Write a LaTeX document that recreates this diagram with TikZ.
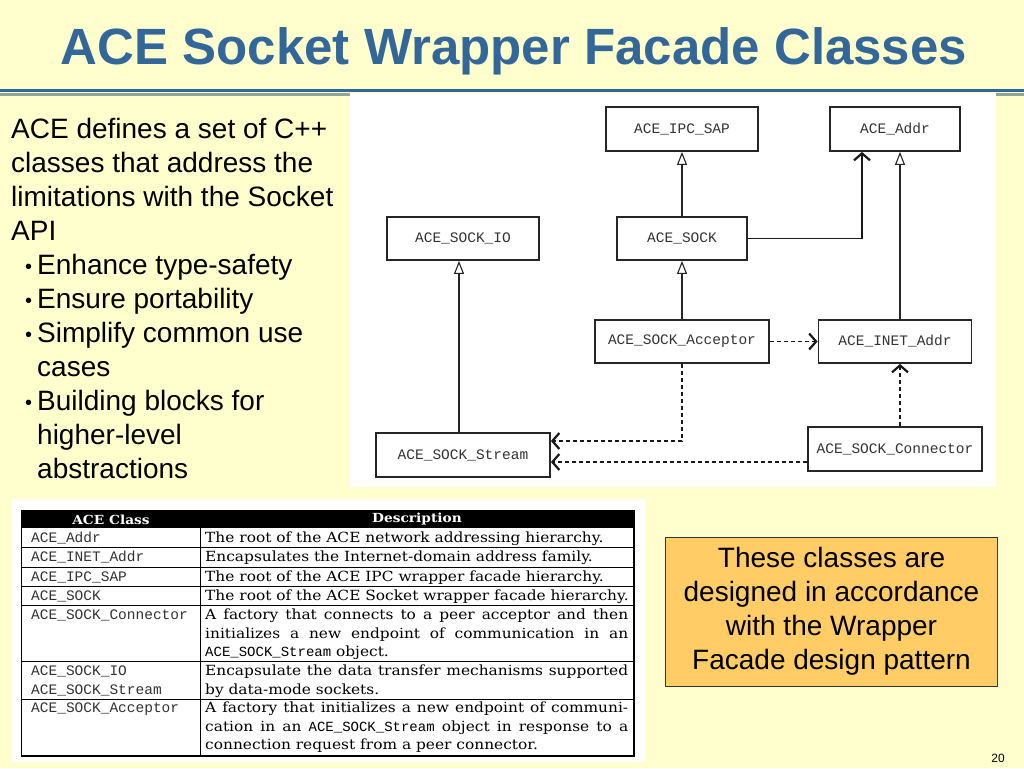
\documentclass[tikz,border=0pt]{standalone}
\usepackage{fontspec}
\setmainfont{Liberation Sans}
\newfontfamily\monof{Liberation Mono}
\newfontfamily\descf[FakeStretch=1.1]{DejaVu Serif}
\usetikzlibrary{arrows.meta}
\definecolor{bg}{RGB}{255,255,206}
\definecolor{titleblue}{RGB}{51,102,153}
\definecolor{rulegray}{RGB}{140,165,160}
\definecolor{boxorange}{RGB}{255,204,102}
\tikzset{
  txt/.style={anchor=base west, inner sep=0, font=\fontsize{28}{34}\selectfont},
  bul/.style={anchor=base west, inner sep=0, font=\fontsize{20}{24}\selectfont},
  cls/.style={draw=black!85, line width=1.8, fill=white, inner sep=0,
              font=\monof\fontsize{14.5}{16}\selectfont, text=black!80},
  inh/.style={line width=1.3, draw=black!85, -{Triangle[open, length=13pt, width=10pt, line width=1.1pt, fill=white]}},
  assoc/.style={line width=1.6, draw=black!90, -{Straight Barb[length=7pt, width=16pt, line width=2.2pt]}},
  dep/.style={assoc, dash pattern=on 4pt off 3pt},
  cname/.style={anchor=base west, inner sep=0, font=\monof\fontsize{14.5}{18.5}\selectfont, text=black!80},
  cdesc/.style={anchor=base west, inner sep=0, font=\descf\fontsize{14}{18.5}\selectfont, text=black},
  hdr/.style={inner sep=0, font=\descf\bfseries\fontsize{12.5}{14}\selectfont, text=white},
  tline/.style={line width=1, draw=black}
}
\newcommand{\mst}{{\monof\fontsize{14}{18.5}\selectfont ACE\_SOCK\_Stream}}
\begin{document}
\begin{tikzpicture}[x=1pt,y=-1pt]
\fill[bg] (0,0) rectangle (1024,768);
\useasboundingbox (0,0) rectangle (1024,768);

% title
\node[anchor=base, inner sep=0, font=\fontsize{51}{60}\selectfont\bfseries, text=titleblue] (title) at (514,64) {ACE Socket Wrapper Facade Classes};
\draw[titleblue, line width=3] (0,90.5) -- (1024,90.5);
\draw[rulegray, line width=2.5] (0,94.5) -- (1024,94.5);

% white panels
\fill[white] (350,93) rectangle (996,487);
\fill[white] (12,499) rectangle (645,762);

% left text
\node[txt] (l1) at (11,138) {ACE defines a set of C++};
\node[txt] (l2) at (11,172) {classes that address the};
\node[txt] (l3) at (11,206) {limitations with the Socket};
\node[txt] (l4) at (11,240) {API};
\node[bul] (b1) at (25,273) {\textbullet};
\node[txt] (l5) at (37,274) {Enhance type-safety};
\node[bul] (b2) at (25,307) {\textbullet};
\node[txt] (l6) at (37,308) {Ensure portability};
\node[bul] (b3) at (25,341) {\textbullet};
\node[txt] (l7) at (37,342) {Simplify common use};
\node[txt] (l8) at (37,376) {cases};
\node[bul] (b4) at (25,409) {\textbullet};
\node[txt] (l9) at (37,410) {Building blocks for};
\node[txt] (l10) at (37,444) {higher-level};
\node[txt] (l11) at (37,478) {abstractions};

% class diagram
\node[cls, minimum width=152, minimum height=44] (ipc) at (682,129) {ACE\_IPC\_SAP};
\node[cls, minimum width=130, minimum height=44] (addr) at (895,129) {ACE\_Addr};
\node[cls, minimum width=152, minimum height=43] (sockio) at (463,238.5) {ACE\_SOCK\_IO};
\node[cls, minimum width=130, minimum height=43] (sock) at (682,238.5) {ACE\_SOCK};
\node[cls, minimum width=174, minimum height=43] (acc) at (682,341.5) {ACE\_SOCK\_Acceptor};
\node[cls, minimum width=153, minimum height=43] (inet) at (895,341.5) {ACE\_INET\_Addr};
\node[cls, minimum width=174, minimum height=44] (stream) at (463,455) {ACE\_SOCK\_Stream};
\node[cls, minimum width=174, minimum height=44] (conn) at (895,449) {ACE\_SOCK\_Connector};

\draw[inh] (sock.north) -- (ipc.south);
\draw[inh] (acc.north) -- (sock.south);
\draw[inh] ([xshift=-4]stream.north) -- ([xshift=-4]sockio.south);
\draw[inh] ([xshift=5]inet.north) -- ([xshift=5]addr.south);
\draw[assoc] (sock.east) -| ([xshift=-33]addr.south);
\draw[dep] (acc.east) -- (inet.west);
\draw[dep] (acc.south) |- ([yshift=14]stream.east);
\draw[dep] ([yshift=-13]conn.west) -- ([yshift=-13]conn.west -| stream.east);
\draw[dep] ([xshift=5]conn.north) -- ([xshift=5]inet.south);

% table
\fill[black] (21.7,511) rectangle (634,528);
\node[hdr] (h1) at (111,519.5) {ACE Class};
\node[hdr] (h2) at (417,519.5) {Description};
\foreach \yy in {547,567,586,605,661,699} \draw[tline] (21.7,\yy) -- (634,\yy);
\draw[tline] (200.7,528) -- (200.7,756);
\draw[line width=1.2] (21.7,511) rectangle (634,756);

\node[cname] (c1) at (31,542.5) {ACE\_Addr};
\node[cname] (c2) at (31,561.5) {ACE\_INET\_Addr};
\node[cname] (c3) at (31,581) {ACE\_IPC\_SAP};
\node[cname] (c4) at (31,600.5) {ACE\_SOCK};
\node[cname] (c5) at (31,619.5) {ACE\_SOCK\_Connector};
\node[cname] (c6) at (31,675.5) {\parbox[t]{165pt}{ACE\_SOCK\_IO\\ACE\_SOCK\_Stream}};
\node[cname] (c7) at (31,712.5) {ACE\_SOCK\_Acceptor};

\node[cdesc] (d1) at (205,542.5) {The root of the ACE network addressing hierarchy.};
\node[cdesc] (d2) at (205,561.5) {Encapsulates the Internet-domain address family.};
\node[cdesc] (d3) at (205,581) {The root of the ACE IPC wrapper facade hierarchy.};
\node[cdesc] (d4) at (205,600.5) {The root of the ACE Socket wrapper facade hierarchy.};
\node[cdesc] (d5) at (205,619.5) {\parbox[t]{423pt}{\makebox[\linewidth][s]{A factory that connects to a peer acceptor and then}\\
\makebox[\linewidth][s]{initializes a new endpoint of communication in an}\\
\mst{} object.}};
\node[cdesc] (d6) at (205,675.5) {\parbox[t]{423pt}{\makebox[\linewidth][s]{Encapsulate the data transfer mechanisms supported}\\
by data-mode sockets.}};
\node[cdesc] (d7) at (205,712.5) {\parbox[t]{423pt}{\makebox[\linewidth][s]{A factory that initializes a new endpoint of communi-}\\
\makebox[\linewidth][s]{cation in an \mst{} object in response to a}\\
connection request from a peer connector.}};

% note box
\node[draw=black!80, fill=boxorange, line width=1, minimum width=332, minimum height=149, inner sep=0,
      align=center, font=\fontsize{28}{34}\selectfont] (note) at (831.5,611.5)
  {These classes are\\designed in accordance\\with the Wrapper\\Facade design pattern};

\node[anchor=base east, inner sep=0, font=\fontsize{12}{14}\selectfont] (pg) at (1005,762) {20};
\end{tikzpicture}
\end{document}
